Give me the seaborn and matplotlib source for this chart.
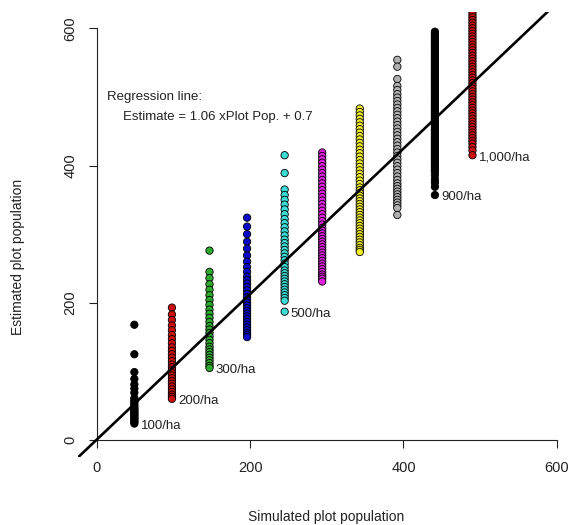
import matplotlib
matplotlib.use("Agg")
import matplotlib.pyplot as plt
import seaborn as sns
import pandas as pd

sns.set_theme(style="ticks")
plt.rcParams["font.family"] = ["Liberation Sans", "DejaVu Sans"]

# Simulated densities (plants/ha) and the matching plot population (0.49 ha plots)
density = [100, 200, 300, 400, 500, 600, 700, 800, 900, 1000]
plot_pop = [49, 98, 147, 196, 245, 294, 343, 392, 441, 490]

# Estimated plot populations for each simulated density
est_100 = [168, 125, 99, 89, 81, 75, 69, 61, 58, 55, 52, 49, 46, 44, 42, 40,
           38, 36, 34, 32, 30, 28, 26, 24]
est_200 = [193, 183, 175, 167, 160, 153, 147, 141, 135, 130, 125, 120, 115,
           110, 106, 102, 98, 94, 90, 86, 82, 78, 74, 70, 66, 63, 60]
est_300 = [276, 245, 236, 227, 219, 211, 204, 197, 190, 184, 178, 172, 166,
           161, 156, 151, 146, 141, 136, 132, 128, 124, 120, 116, 112, 108, 105]
est_400 = [324, 311, 300, 289, 279, 269, 260, 252, 245, 238, 233, 228, 223,
           218, 213, 208, 204, 200, 196, 192, 188, 184, 180, 176, 172, 168,
           164, 160, 156, 153, 150]
est_500 = [415, 389, 365, 357, 350, 343, 336, 329, 322, 316, 310, 304, 298,
           292, 287, 282, 277, 272, 267, 262, 257, 252, 247, 243, 239, 235,
           231, 227, 223, 219, 215, 211, 207, 203, 187]
est_600 = [419, 414, 409, 404, 399, 394, 389, 384, 379, 374, 369, 364, 359,
           354, 349, 344, 339, 334, 329, 324, 319, 314, 309, 305, 301, 297,
           293, 289, 285, 281, 277, 273, 269, 265, 261, 257, 253, 249, 245,
           241, 238, 235, 231]
est_700 = [483, 478, 473, 468, 463, 458, 453, 448, 443, 438, 433, 428, 423,
           418, 413, 408, 403, 398, 393, 388, 383, 378, 373, 368, 364, 360,
           356, 352, 348, 344, 340, 336, 332, 328, 324, 320, 316, 312, 308,
           304, 300, 296, 292, 288, 284, 280, 277, 274]
est_800 = [554, 544, 526, 516, 510, 504, 499, 494, 489, 484, 479, 474, 469,
           464, 459, 454, 449, 444, 439, 434, 429, 424, 419, 414, 409, 404,
           399, 394, 389, 384, 379, 374, 370, 366, 362, 358, 354, 350, 346,
           342, 338, 328]
est_900 = [595, 592, 589, 586, 583, 580, 577, 574, 571, 568, 565, 562, 559,
           556, 553, 550, 547, 544, 541, 538, 535, 532, 529, 526, 523, 520,
           517, 514, 511, 508, 505, 502, 499, 496, 493, 490, 487, 484, 481,
           478, 475, 472, 469, 466, 463, 460, 457, 454, 451, 448, 445, 442,
           439, 436, 433, 430, 427, 424, 421, 418, 415, 412, 409, 406, 403,
           400, 397, 394, 391, 386, 380, 375, 369, 357]
est_1000 = [636, 632, 628, 624, 620, 616, 612, 608, 604, 600, 596, 592, 588,
            584, 580, 576, 572, 568, 564, 560, 556, 552, 548, 544, 540, 536,
            532, 528, 524, 520, 516, 512, 508, 504, 500, 496, 492, 488, 484,
            480, 476, 472, 468, 464, 460, 456, 452, 448, 444, 440, 436, 432,
            427, 422, 415]
estimates = [est_100, est_200, est_300, est_400, est_500, est_600, est_700,
             est_800, est_900, est_1000]

point_colors = ["#000000", "#CC1010", "#2EAA2E", "#0A0AC8", "#3CDCD6",
                "#DC20DC", "#F0EC2A", "#B0B0B0", "#000000", "#CC1010"]

density_labels = {100: "100/ha", 200: "200/ha", 300: "300/ha",
                  500: "500/ha", 900: "900/ha", 1000: "1,000/ha"}

# Fitted regression: Estimate = slope * plot population + intercept
slope = 1.06
intercept = 0.7

ticks = [0, 200, 400, 600]

rows = []
for d, x, ys in zip(density, plot_pop, estimates):
    for y in ys:
        rows.append({"density": d, "simulated": x, "estimated": y})
df = pd.DataFrame(rows)

W, H = 568, 525
fig = plt.figure(figsize=(W / 100, H / 100), dpi=100)
left, right, top, bottom = 78.4, 575.2, 11.8, 456.5
ax = fig.add_axes([left / W, 1 - bottom / H, (right - left) / W, (bottom - top) / H])

sns.scatterplot(data=df, x="simulated", y="estimated", hue="density",
                palette=dict(zip(density, point_colors)), s=28,
                edgecolor="black", linewidth=0.6, legend=False, ax=ax,
                zorder=2)

ax.axline((0, intercept), slope=slope, color="black", lw=1.9, zorder=3)

ax.set_xlim(-24, 624)
ax.set_ylim(-24, 624)

for side in ["top", "right"]:
    ax.spines[side].set_visible(False)
for side in ["left", "bottom"]:
    ax.spines[side].set_position(("data", 0))
    ax.spines[side].set_bounds(0, 600)
    ax.spines[side].set_color("#222222")
    ax.spines[side].set_linewidth(0.8)

ax.set_xticks(ticks)
ax.set_yticks(ticks)
ax.set_xticklabels([str(t) for t in ticks])
ax.set_yticklabels([str(t) for t in ticks], rotation=90, va="center")
ax.tick_params(axis="both", direction="out", length=6, width=0.8,
               color="#222222", labelsize=10.5, labelcolor="#222222")
ax.tick_params(axis="x", pad=9)
ax.tick_params(axis="y", pad=8)
ax.set_xlabel("")
ax.set_ylabel("")

# Density labels beside the lowest estimate of each labelled column
for d, x, ys in zip(density, plot_pop, estimates):
    if d in density_labels:
        ax.text(x + 8, min(ys) - 3, density_labels[d], ha="left", va="center",
                fontsize=9.5, color="#222222")

ax.text(13, 500, "Regression line:", ha="left", va="center", fontsize=9.5,
        color="#222222")
ax.text(34, 470, f"Estimate = {slope} xPlot Pop. + {intercept}", ha="left",
        va="center", fontsize=9.5, color="#222222")

fig.text(326 / W, 1 - 517 / H, "Simulated plot population", ha="center",
         va="center", fontsize=10, color="#222222")
fig.text(18 / W, 1 - 257 / H, "Estimated plot population", ha="center",
         va="center", rotation=90, fontsize=10, color="#222222")

fig.savefig("out.png", dpi=100, facecolor="white")
